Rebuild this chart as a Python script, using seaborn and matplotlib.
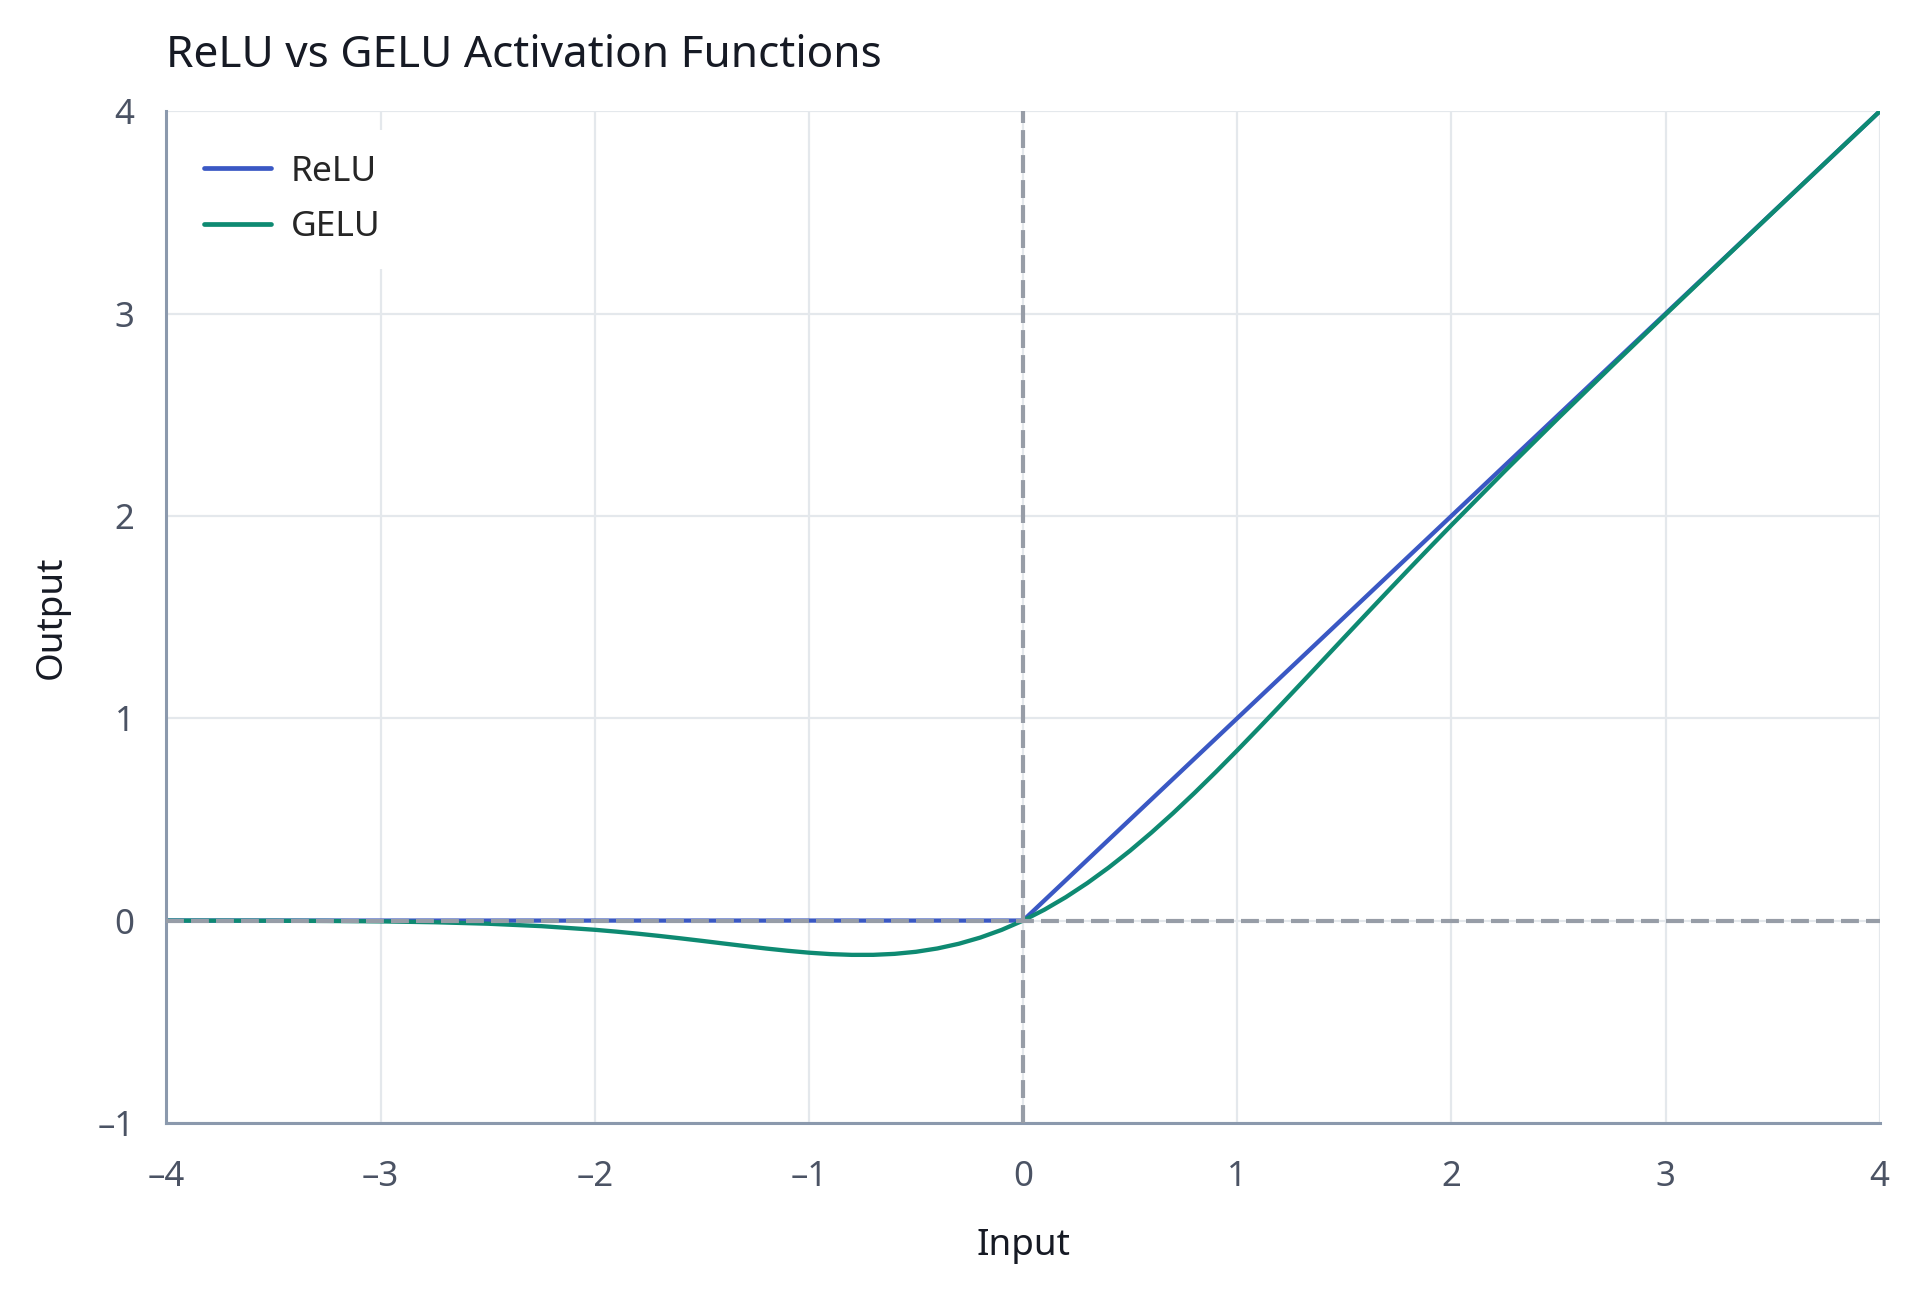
import pandas as pd
import matplotlib
matplotlib.use("Agg")
import matplotlib.pyplot as plt
import seaborn as sns

# values
x_vals = [-4.0, -3.75, -3.5, -3.25, -3.0, -2.75, -2.5, -2.25,
          -2.0, -1.9, -1.8, -1.7, -1.6, -1.5, -1.4, -1.3, -1.2, -1.1,
          -1.0, -0.9, -0.8, -0.7, -0.6, -0.5, -0.4, -0.3, -0.2, -0.1,
          0.0, 0.1, 0.2, 0.3, 0.4, 0.5, 0.6, 0.7, 0.8, 0.9,
          1.0, 1.1, 1.2, 1.3, 1.4, 1.5, 1.6, 1.7, 1.8, 1.9,
          2.0, 2.25, 2.5, 2.75, 3.0, 3.25, 3.5, 3.75, 4.0]
gelu_vals = [-0.0001, -0.0003, -0.0008, -0.0019, -0.0040, -0.0082, -0.0155, -0.0275,
             -0.0455, -0.0546, -0.0647, -0.0758, -0.0877, -0.1002, -0.1131, -0.1258,
             -0.1381, -0.1492,
             -0.1587, -0.1657, -0.1695, -0.1694, -0.1645, -0.1543, -0.1378, -0.1146,
             -0.0841, -0.0460,
             0.0, 0.0540, 0.1159, 0.1854, 0.2622, 0.3457, 0.4355, 0.5306, 0.6305, 0.7343,
             0.8413, 0.9508, 1.0619, 1.1742, 1.2869, 1.3998, 1.5123, 1.6242, 1.7353, 1.8454,
             1.9545, 2.2225, 2.4845, 2.7418, 2.9960, 3.2481, 3.4992, 3.7497, 3.9999]
relu_x = [-4.0, 0.0, 4.0]
relu_vals = [0.0, 0.0, 4.0]

x_ticks = [-4, -3, -2, -1, 0, 1, 2, 3, 4]
y_ticks = [-1, 0, 1, 2, 3, 4]

df = pd.concat([
    pd.DataFrame({"Input": relu_x, "Output": relu_vals, "fn": "ReLU"}),
    pd.DataFrame({"Input": x_vals, "Output": gelu_vals, "fn": "GELU"}),
])

sns.set_style("white")
plt.rcParams["font.family"] = ["Noto Sans", "DejaVu Sans"]
plt.rcParams["axes.unicode_minus"] = False

fig = plt.figure(figsize=(19.2, 12.92), dpi=100)
ax = fig.add_axes([0.0867, 0.1309, 0.979 - 0.0867, 0.9138 - 0.1309])

sns.lineplot(data=df, x="Input", y="Output", hue="fn", sort=False,
             palette={"ReLU": "#3a58c4", "GELU": "#0e8a72"}, linewidth=3.1, ax=ax)

ax.axhline(0, color="#979da7", lw=3.0, dashes=(4.3, 1.7), zorder=5)
ax.axvline(0, color="#979da7", lw=3.0, dashes=(4.3, 1.7), zorder=5)

ax.set_xlim(-4, 4)
ax.set_ylim(-1, 4)
ax.set_xticks(x_ticks)
ax.set_yticks(y_ticks)
ax.set_xticklabels([str(t).replace("-", "\u2013") for t in x_ticks])
ax.set_yticklabels([str(t).replace("-", "\u2013") for t in y_ticks])
ax.grid(True, color="#e4e8ec", lw=1.6)
ax.set_axisbelow(True)

for s in ["top", "right"]:
    ax.spines[s].set_visible(False)
for s in ["left", "bottom"]:
    ax.spines[s].set_color("#8b99ad")
    ax.spines[s].set_linewidth(2.2)

ax.tick_params(axis="both", length=7, width=2.4, color="#3b4352",
               labelcolor="#4b5364", labelsize=25)
ax.tick_params(axis="x", pad=20)
ax.tick_params(axis="y", pad=16)

ax.set_title("ReLU vs GELU Activation Functions", loc="left", fontsize=31.8,
             color="#161a24", pad=32)
ax.set_xlabel("Input", fontsize=26.5, color="#161a24", labelpad=24)
ax.set_ylabel("Output", fontsize=26.5, color="#161a24", labelpad=20)

leg = ax.legend(loc="upper left", fontsize=25.5, frameon=True, framealpha=1,
                facecolor="white", edgecolor="none", handlelength=1.9,
                borderpad=0.7, labelspacing=0.6, handletextpad=0.55,
                bbox_to_anchor=(-0.003, 0.999))
for h in leg.get_lines():
    h.set_linewidth(3.4)

fig.savefig("out.png", dpi=100)
